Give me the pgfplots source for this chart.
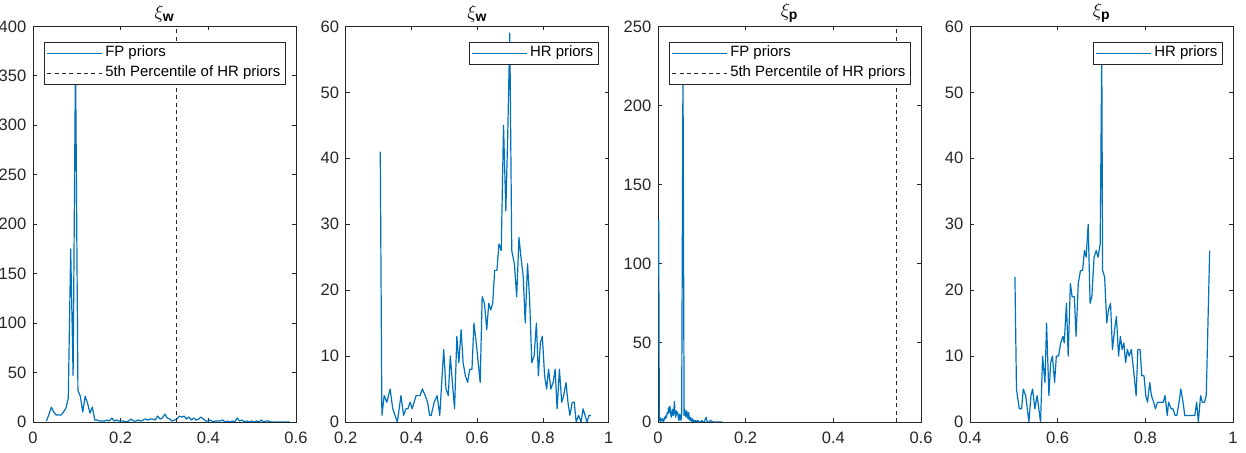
\documentclass[border=0pt]{standalone}
\usepackage{amsmath}
\usepackage{fontspec}
\setmainfont{Liberation Sans}
\usepackage{pgfplots}
\pgfplotsset{compat=1.18}

\definecolor{mblue}{rgb}{0,0.447,0.741}
\definecolor{axgray}{gray}{0.15}

\newcommand{\tkfont}{\fontsize{12.4}{14}\selectfont}
\newcommand{\lgfont}{\fontsize{11.2}{13}\selectfont}

\pgfplotsset{
  mpanel/.style={
    scale only axis,
    width=197.25pt, height=296.7pt,
    anchor=south west,
    axis line style={draw=axgray, line width=0.6pt},
    every tick/.style={draw=axgray, line width=0.6pt},
    tick align=inside,
    major tick length=3pt,
    ticklabel style={font=\tkfont, text=axgray},
    /pgf/number format/assume math mode=true,
    /pgf/number format/fixed,
    xticklabel style={yshift=-4pt},
    yticklabel style={xshift=-1.5pt},
    title style={font=\fontsize{15}{17}\selectfont, yshift=-6.5pt},
    legend style={at={(1,1)}, anchor=north east, xshift=-7.5pt, yshift=-11.5pt,
      draw=axgray, fill=white, font=\lgfont,
      inner xsep=2pt, inner ysep=1pt, row sep=0pt,
      nodes={text height=0.8em, text depth=0.3em, inner sep=2pt}},
    legend cell align=left,
  },
  fpline/.style={color=mblue, line width=0.9pt, line join=round,
    legend image code/.code={\draw[mblue, line width=0.9pt] (0pt,0pt) -- (41pt,0pt);}},
  pctline/.style={color=black!85, line width=0.5pt, dash pattern=on 3pt off 2.5pt,
    legend image code/.code={\draw[black!85, line width=0.5pt, dash pattern=on 3pt off 2.5pt] (0pt,0pt) -- (41pt,0pt);}},
}

\begin{document}
\begin{tikzpicture}

% panel 1: xi_w, FP priors
\begin{axis}[mpanel, at={(24.75pt,23.25pt)},
  xmin=0, xmax=0.6, ymin=0, ymax=400,
  xtick={0,0.2,0.4,0.6}, ytick={0,50,...,400},
  title={$\xi_{\textbf{w}}$}]
\addplot[fpline] coordinates {
 (0.031,1) (0.0365,8) (0.042,15) (0.0475,10) (0.053,7) (0.0585,7) (0.064,7)
 (0.0695,10) (0.075,14) (0.0805,24) (0.086,175) (0.0915,47) (0.097,370)
 (0.1025,32) (0.108,26) (0.1135,10) (0.119,26) (0.1245,19) (0.130,9)
 (0.1355,15) (0.141,2) (0.1465,2)
 (0.152,1) (0.158,1) (0.163,1) (0.169,2) (0.174,1) (0.180,4) (0.185,1)
 (0.191,2) (0.196,1) (0.202,1) (0.207,1) (0.213,0) (0.218,1) (0.224,3)
 (0.229,1) (0.235,1) (0.240,2) (0.246,1) (0.251,2) (0.257,3) (0.262,2)
 (0.268,3) (0.273,3) (0.279,2) (0.284,6) (0.290,3) (0.295,4) (0.301,8)
 (0.306,4) (0.312,3) (0.317,1) (0.323,2) (0.328,3) (0.334,6) (0.339,5)
 (0.345,6) (0.350,3) (0.356,5) (0.361,2) (0.367,4) (0.372,2) (0.378,3)
 (0.383,5) (0.389,3) (0.394,1) (0.400,1) (0.405,2) (0.411,0) (0.416,1)
 (0.422,1) (0.427,1) (0.433,2) (0.438,0) (0.444,1) (0.449,0) (0.455,1)
 (0.460,0) (0.466,4) (0.471,1) (0.477,2) (0.482,0) (0.488,1) (0.493,0)
 (0.499,1) (0.504,0) (0.510,1) (0.515,0) (0.521,2) (0.526,0) (0.532,1)
 (0.537,1) (0.543,0) (0.548,0) (0.554,0) (0.559,0) (0.565,0) (0.570,0)
 (0.576,0) (0.581,0) (0.586,0)
};
\addlegendentry{FP priors}
\addplot[pctline] coordinates {(0.327,0) (0.327,400)};
\addlegendentry{5th Percentile of HR priors}
\end{axis}

% panel 2: xi_w, HR priors
\begin{axis}[mpanel, at={(259.3pt,23.25pt)},
  xmin=0.2, xmax=1, ymin=0, ymax=60,
  xtick={0.2,0.4,0.6,0.8,1}, ytick={0,10,...,60},
  title={$\xi_{\textbf{w}}$}]
\addplot[fpline] coordinates {
 (0.305,41) (0.310,1) (0.317,4) (0.325,3) (0.335,5) (0.343,2) (0.357,0)
 (0.368,4) (0.376,1) (0.383,2) (0.389,2) (0.396,3) (0.402,2) (0.414,4)
 (0.426,4) (0.433,5) (0.442,4) (0.449,3) (0.455,1) (0.460,1) (0.469,3)
 (0.478,4) (0.486,1) (0.498,11) (0.505,5) (0.512,4) (0.518,10) (0.526,5)
 (0.531,2) (0.538,13) (0.544,9) (0.551,14) (0.557,9) (0.564,7) (0.571,6)
 (0.577,8) (0.584,8) (0.590,15) (0.597,12) (0.603,9) (0.609,6) (0.615,19)
 (0.622,18) (0.629,14) (0.635,18) (0.641,17) (0.647,18) (0.653,23)
 (0.660,23) (0.666,27) (0.673,26) (0.680,45) (0.687,32) (0.693,44)
 (0.699,59) (0.705,26) (0.713,24) (0.720,19) (0.727,28) (0.733,25)
 (0.740,22) (0.746,15) (0.753,24) (0.759,19) (0.766,9) (0.773,10)
 (0.780,15) (0.786,7) (0.792,12) (0.798,13) (0.805,7) (0.811,5) (0.817,8)
 (0.824,5) (0.831,6) (0.837,8) (0.843,2) (0.850,8) (0.857,3) (0.863,4)
 (0.870,6) (0.876,3) (0.882,1) (0.889,3) (0.895,3) (0.901,0) (0.908,1)
 (0.916,0) (0.922,2) (0.928,1) (0.934,0) (0.940,1) (0.946,1)
};
\addlegendentry{HR priors}
\end{axis}

% panel 3: xi_p, FP priors
\begin{axis}[mpanel, at={(493.5pt,23.25pt)},
  xmin=0, xmax=0.6, ymin=0, ymax=250,
  xtick={0,0.2,0.4,0.6}, ytick={0,50,...,250},
  title={$\xi_{\textbf{p}}$}]
\addplot[fpline] coordinates {
 (0.0015,128) (0.003,1) (0.0045,3) (0.006,0) (0.0075,2) (0.009,1)
 (0.0105,2) (0.012,0) (0.0135,1) (0.015,3) (0.0165,2) (0.018,4)
 (0.0195,3) (0.021,6) (0.0225,5) (0.024,9) (0.0255,6) (0.027,10)
 (0.0285,7) (0.030,3) (0.0315,5) (0.033,8) (0.0345,4) (0.036,7)
 (0.0375,13) (0.039,5) (0.0405,3) (0.042,7) (0.0435,5) (0.045,6)
 (0.0465,2) (0.048,1) (0.0495,5) (0.051,3) (0.0525,1) (0.054,6)
 (0.057,225) (0.0595,4) (0.061,8) (0.0625,5) (0.064,3) (0.0655,7)
 (0.067,5) (0.0685,2) (0.070,6) (0.0715,2) (0.073,1) (0.0745,3)
 (0.076,1) (0.0775,0) (0.079,2) (0.0805,1) (0.082,0) (0.0835,1)
 (0.085,0) (0.0865,1) (0.088,0) (0.091,1) (0.094,0) (0.097,0) (0.100,1)
 (0.103,0) (0.106,0) (0.108,2) (0.110,3) (0.112,0) (0.116,0) (0.120,1)
 (0.125,0) (0.130,0) (0.135,0) (0.140,0) (0.147,0)
};
\addlegendentry{FP priors}
\addplot[pctline] coordinates {(0.543,0) (0.543,250)};
\addlegendentry{5th Percentile of HR priors}
\end{axis}

% panel 4: xi_p, HR priors
\begin{axis}[mpanel, at={(727.5pt,23.25pt)},
  xmin=0.4, xmax=1, ymin=0, ymax=60,
  xtick={0.4,0.6,0.8,1}, ytick={0,10,...,60},
  title={$\xi_{\textbf{p}}$}]
\addplot[fpline] coordinates {
 (0.5025,22) (0.506,5) (0.5124,2) (0.5177,2) (0.5215,5) (0.527,4)
 (0.5344,0) (0.539,4) (0.5428,5) (0.548,2) (0.553,4) (0.561,0)
 (0.5656,10) (0.571,6) (0.5747,15) (0.580,4) (0.584,9) (0.588,10)
 (0.593,6) (0.597,10) (0.602,10) (0.607,12) (0.612,13) (0.615,12)
 (0.620,18) (0.624,10) (0.629,21) (0.633,19) (0.638,19) (0.642,13)
 (0.647,21) (0.652,23) (0.657,23) (0.661,26) (0.665,25) (0.6696,30)
 (0.674,18) (0.678,19) (0.683,25) (0.688,26) (0.692,25) (0.697,27)
 (0.7006,56) (0.7025,23) (0.7071,22) (0.712,15) (0.716,17) (0.7206,18)
 (0.725,11) (0.7298,14) (0.734,16) (0.739,10) (0.743,13) (0.747,11)
 (0.751,12) (0.755,9) (0.759,11) (0.763,10) (0.768,11) (0.773,8)
 (0.779,4) (0.783,11) (0.788,11) (0.792,7) (0.797,7) (0.801,4) (0.805,3)
 (0.810,6) (0.814,4) (0.819,3) (0.823,2) (0.828,3) (0.833,3) (0.837,3)
 (0.841,3) (0.845,4) (0.850,1) (0.853,3) (0.859,2) (0.863,2) (0.868,1)
 (0.872,1) (0.877,3) (0.881,5) (0.886,3) (0.890,1) (0.898,1) (0.905,1)
 (0.913,1) (0.917,3) (0.921,0) (0.926,4) (0.930,3) (0.935,3) (0.939,4)
 (0.9468,26)
};
\addlegendentry{HR priors}
\end{axis}

\pgfresetboundingbox
\path[use as bounding box] (0pt,0pt) rectangle (934.5pt,339.75pt);
\end{tikzpicture}
\end{document}
